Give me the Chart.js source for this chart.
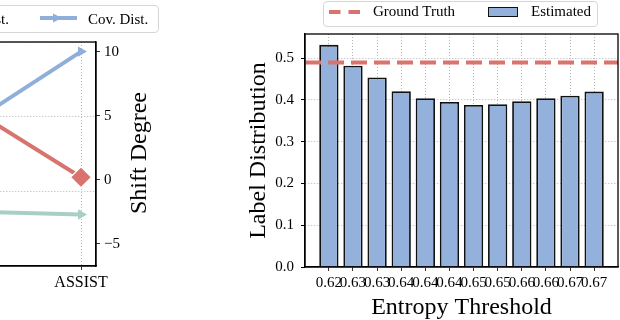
<!DOCTYPE html>
<html>
<head>
<meta charset="utf-8">
<script src="https://cdn.jsdelivr.net/npm/chart.js"></script>
<style>
  html, body { margin: 0; padding: 0; background: #fff; }
  body {
    position: relative;
    width: 620px;
    height: 320px;
    overflow: hidden;
    font-family: "Liberation Serif", "Times New Roman", serif;
  }
  .wrap { position: absolute; top: 0; }
  .legend {
    position: absolute;
    box-sizing: border-box;
    border: 1px solid #d6d6d6;
    border-radius: 4px;
    background: rgba(255, 255, 255, 0.85);
  }
  .lg { position: absolute; font-size: 15px; line-height: 15px; color: #000; white-space: nowrap; }
  .ytitle {
    position: absolute;
    font-size: 24px;
    line-height: 24px;
    white-space: nowrap;
    transform: translate(-50%, -50%) rotate(-90deg);
  }
</style>
</head>
<body>
<div class="wrap" style="left:-330px;width:490px;height:320px;">
  <canvas id="shiftChart" width="490" height="320"></canvas>
</div>
<div class="wrap" style="left:200px;width:420px;height:320px;">
  <canvas id="barChart" width="420" height="320"></canvas>
</div>

<!-- left legend (mostly cut off by the figure crop) -->
<div class="legend" style="left:-200px;top:5px;width:359px;height:28px;"></div>
<span class="lg" style="right:611px;top:12px;">Label Dist.</span>
<svg style="position:absolute;left:40px;top:11px;" width="40" height="14">
  <line x1="0" y1="7" x2="37" y2="7" stroke="#8FAFDA" stroke-width="4"></line>
  <polygon points="13,2.5 22,7 13,11.5" fill="#8FAFDA"></polygon>
</svg>
<span class="lg" style="left:88px;top:12px;">Cov. Dist.</span>
<div class="ytitle" style="left:138px;top:153px;">Shift Degree</div>

<!-- right legend -->
<div class="legend" style="left:323px;top:1px;width:275px;height:26px;"></div>
<svg style="position:absolute;left:329px;top:8px;" width="32" height="8">
  <line x1="0" y1="4" x2="31" y2="4" stroke="#D9736E" stroke-width="4" stroke-dasharray="11.5 8"></line>
</svg>
<span class="lg" style="left:373px;top:4px;">Ground Truth</span>
<div style="position:absolute;left:488px;top:7px;width:30px;height:10px;box-sizing:border-box;background:#93B1DA;border:1.8px solid #111;"></div>
<span class="lg" style="left:531px;top:4px;">Estimated</span>

<script>
// left panel: shift degree per dataset (only the ASSIST end is inside the crop)
const datasetNames = ["EdNet", "ASSIST"];
const covDist = [2.4, 10.0];
const labelDist = [7.5, 0.2];
const otherShift = [-2.4, -2.7];
const shiftTicks = [-5, 0, 5, 10];

// right panel: estimated label distribution per entropy threshold
const thresholds = ["0.62", "0.63", "0.63", "0.64", "0.64", "0.64", "0.65", "0.65", "0.66", "0.66", "0.67", "0.67"];
const estimated = [0.532, 0.482, 0.454, 0.421, 0.404, 0.395, 0.388, 0.390, 0.397, 0.404, 0.410, 0.420];
const groundTruth = 0.49;
const labelTicks = [0, 0.1, 0.2, 0.3, 0.4, 0.5];

const BLUE = "#8FAFDA";
const BAR_BLUE = "#93B1DA";
const RED = "#D9736E";
const TEAL = "#A8CFC6";
const GRID = "#b4b4b4";

Chart.defaults.font.family = "'Liberation Serif', 'Times New Roman', serif";
Chart.defaults.color = "#000";

const frameBox = {
  id: "frameBox",
  afterDraw(chart) {
    const { ctx, chartArea: a } = chart;
    ctx.save();
    ctx.strokeStyle = "#000";
    ctx.lineWidth = 1.3;
    ctx.strokeRect(a.left, a.top, a.right - a.left, a.bottom - a.top);
    ctx.restore();
  },
};

// v4 reads the grid line dash from border.dash
const dottedGrid = {
  offset: false,
  color: GRID,
  lineWidth: 1,
  tickColor: "#000",
  tickLength: 4,
  tickWidth: 1,
  tickBorderDash: [1, 0],
};
const frameBorder = { color: "#000", width: 1.3, dash: [1, 2] };

const toPoints = (values) => values.map((v, i) => ({ x: i, y: v }));

new Chart(document.getElementById("shiftChart"), {
  type: "line",
  data: {
    datasets: [
      {
        label: "Other",
        data: toPoints(otherShift),
        yAxisID: "y1",
        borderColor: TEAL,
        backgroundColor: TEAL,
        borderWidth: 4,
        pointStyle: "triangle",
        pointRotation: 90,
        pointRadius: 6,
        pointBorderWidth: 0,
      },
      {
        label: "Label Dist.",
        data: toPoints(labelDist),
        yAxisID: "y1",
        borderColor: RED,
        backgroundColor: RED,
        borderWidth: 4,
        pointStyle: "rectRot",
        pointRadius: 10.5,
        pointBackgroundColor: RED,
        pointBorderColor: "#fff",
        pointBorderWidth: 1.2,
      },
      {
        label: "Cov. Dist.",
        data: toPoints(covDist),
        yAxisID: "y1",
        borderColor: BLUE,
        backgroundColor: BLUE,
        borderWidth: 4,
        pointStyle: "triangle",
        pointRotation: 90,
        pointRadius: 6,
        pointBorderWidth: 0,
      },
    ],
  },
  options: {
    responsive: false,
    animation: false,
    devicePixelRatio: 1,
    layout: { padding: { top: 42, right: 0, bottom: 0, left: 0 } },
    plugins: { legend: { display: false }, tooltip: { enabled: false } },
    scales: {
      x: {
        type: "linear",
        offset: false,
        min: -1.1,
        max: 1.1,
        afterBuildTicks: (axis) => {
          axis.ticks = datasetNames.map((_, i) => ({ value: i }));
        },
        afterFit: (axis) => {
          axis.height = 54;
        },
        ticks: {
          callback: (v) => datasetNames[v],
          autoSkip: false,
          maxRotation: 0,
          font: { size: 16 },
          padding: 3,
        },
        grid: dottedGrid,
        border: frameBorder,
      },
      y: {
        min: 0,
        max: 3,
        ticks: { display: false, stepSize: 1 },
        grid: dottedGrid,
        border: frameBorder,
        afterFit: (axis) => {
          axis.width = 96;
        },
      },
      y1: {
        position: "right",
        min: -6.72,
        max: 10.75,
        afterBuildTicks: (axis) => {
          axis.ticks = shiftTicks.map((v) => ({ value: v }));
        },
        afterFit: (axis) => {
          axis.width = 64;
        },
        ticks: {
          callback: (v) => (v < 0 ? "\u2212" + Math.abs(v) : String(v)),
          font: { size: 15 },
          padding: 4,
        },
        grid: { ...dottedGrid, drawOnChartArea: false },
        border: frameBorder,
      },
    },
  },
  plugins: [frameBox],
});

const xMin = -0.99;
const xMax = thresholds.length - 1 + 0.99;

new Chart(document.getElementById("barChart"), {
  type: "bar",
  data: {
    datasets: [
      {
        type: "line",
        label: "Ground Truth",
        data: [
          { x: xMin, y: groundTruth },
          { x: xMax, y: groundTruth },
        ],
        borderColor: RED,
        borderWidth: 4,
        borderDash: [16, 7],
        pointRadius: 0,
        order: 0,
      },
      {
        type: "bar",
        label: "Estimated",
        data: toPoints(estimated),
        backgroundColor: BAR_BLUE,
        borderColor: "#111",
        borderWidth: 1.8,
        barPercentage: 0.8,
        categoryPercentage: 1,
        order: 1,
      },
    ],
  },
  options: {
    responsive: false,
    animation: false,
    devicePixelRatio: 1,
    layout: { padding: { top: 34, right: 2, bottom: 0, left: 0 } },
    plugins: { legend: { display: false }, tooltip: { enabled: false } },
    scales: {
      x: {
        type: "linear",
        offset: false,
        min: xMin,
        max: xMax,
        z: 1,
        afterBuildTicks: (axis) => {
          axis.ticks = thresholds.map((_, i) => ({ value: i }));
        },
        afterFit: (axis) => {
          axis.height = 53;
        },
        ticks: {
          callback: (v) => thresholds[v],
          autoSkip: false,
          maxRotation: 0,
          font: { size: 15 },
          padding: 3,
        },
        grid: dottedGrid,
        border: frameBorder,
        title: {
          display: true,
          text: "Entropy Threshold",
          font: { size: 24 },
          padding: { top: 0, bottom: -2 },
        },
      },
      y: {
        min: 0,
        max: 0.558,
        z: 1,
        afterBuildTicks: (axis) => {
          axis.ticks = labelTicks.map((v) => ({ value: v }));
        },
        afterFit: (axis) => {
          axis.width = 105;
        },
        ticks: {
          callback: (v) => v.toFixed(1),
          font: { size: 15 },
          padding: 7,
        },
        grid: dottedGrid,
        border: frameBorder,
        title: {
          display: true,
          text: "Label Distribution",
          font: { size: 24 },
          padding: { top: 44, bottom: 0 },
        },
      },
    },
  },
  plugins: [frameBox],
});
</script>
</body>
</html>
